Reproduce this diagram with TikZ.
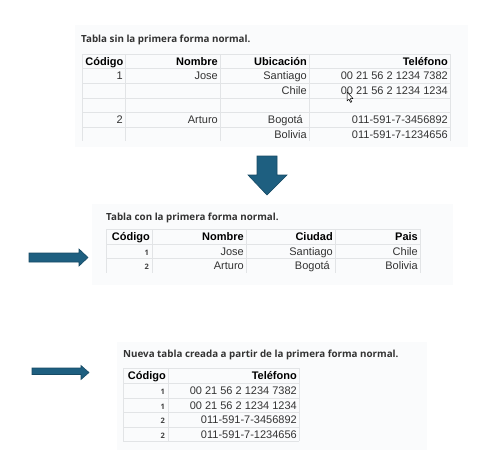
\documentclass[tikz,border=0pt]{standalone}
\usepackage{fontspec}
\setmainfont{Liberation Sans}
\newfontfamily\opensans{Open Sans}
\definecolor{arrowblue}{HTML}{1E5F80}
\definecolor{arrowedge}{HTML}{164A64}
\definecolor{panelbg}{HTML}{FAFBFC}
\definecolor{gridline}{HTML}{E2E4E6}
\definecolor{titlegray}{HTML}{333333}
\tikzset{
  cell/.style={anchor=base east, inner sep=0pt, font=\fontsize{11}{11}\selectfont, text=black!80},
  head/.style={cell, font=\fontsize{11}{11}\selectfont\bfseries, text=black},
  idx/.style={cell, font=\opensans\bfseries\fontsize{7.5}{8}\selectfont, text=black!75},
  caption/.style={anchor=base west, inner sep=0pt, font=\opensans\bfseries\fontsize{9.8}{10}\selectfont, text=titlegray},
  panel/.style={fill=panelbg, draw=none},
  gridrule/.style={draw=gridline, line width=0.9pt},
  blockarrow/.style={fill=arrowblue, draw=arrowedge, line width=0.6pt, line join=miter},
}
\begin{document}
\begin{tikzpicture}[x=1pt, y=-1pt]
  \useasboundingbox (0,0) rectangle (493,474);
  % panels
  \fill[panel] (75,25) rectangle (468,147);
  \fill[panel] (92,204) rectangle (453,285);
  \fill[panel] (117,342) rectangle (427,450);

  % first table: sin la primera forma normal
  \node[caption] (cap1) at (81,42) {Tabla sin la primera forma normal.};
  \foreach \y in {54,68,83,98,112,127}
    \draw[gridrule] (82,\y) -- (450,\y);
  \foreach \x in {82,125,220,309,450}
    \draw[gridrule] (\x,54) -- (\x,141);
  \node[head] (a0c) at (123.5,65) {Código};
  \node[head] (a0n) at (218,65) {Nombre};
  \node[head] (a0u) at (307,65) {Ubicación};
  \node[head] (a0t) at (448,65) {Teléfono};
  \node[cell] (a1c) at (123,79) {1};
  \node[cell] (a1n) at (218,79) {Jose};
  \node[cell] (a1u) at (307,79) {Santiago};
  \node[cell] (a1t) at (448,79) {00 21 56 2 1234 7382};
  \node[cell] (a2u) at (307,94) {Chile};
  \node[cell] (a2t) at (448,94) {00 21 56 2 1234 1234};
  \node[cell] (a4c) at (123,123) {2};
  \node[cell] (a4n) at (218,123) {Arturo};
  \node[cell] (a4u) at (303,123) {Bogotá};
  \node[cell] (a4t) at (448,123) {011-591-7-3456892};
  \node[cell] (a5u) at (307,138) {Bolivia};
  \node[cell] (a5t) at (448,138) {011-591-7-1234656};
  % mouse pointer
  \draw[fill=white, line width=0.5pt, line join=round] (347,92) -- (347,101) -- (349,99.2) -- (350.6,102.4)
    -- (351.8,101.8) -- (350.3,98.7) -- (353,98.5) -- cycle;

  % arrow down
  \draw[blockarrow] (257,156) -- (277,156) -- (277,175) -- (287,175) -- (267,195)
    -- (248,175) -- (257,175) -- cycle;

  % second table: con la primera forma normal
  \node[caption] (cap2) at (106,220) {Tabla con la primera forma normal.};
  \foreach \y in {229,244,258}
    \draw[gridrule] (106,\y) -- (420,\y);
  \foreach \x in {106,152,246,335,420}
    \draw[gridrule] (\x,229) -- (\x,273);
  \node[head] (b0c) at (150,240) {Código};
  \node[head] (b0n) at (244,240) {Nombre};
  \node[head] (b0u) at (333,240) {Ciudad};
  \node[head] (b0p) at (418,240) {Pais};
  \node[idx] (b1c) at (149,255) {1};
  \node[cell] (b1n) at (244,255) {Jose};
  \node[cell] (b1u) at (333,255) {Santiago};
  \node[cell] (b1p) at (418,255) {Chile};
  \node[idx] (b2c) at (149,269) {2};
  \node[cell] (b2n) at (244,269) {Arturo};
  \node[cell] (b2u) at (330,269) {Bogotá};
  \node[cell] (b2p) at (418,269) {Bolivia};
  \draw[blockarrow] (29,253) -- (79,253) -- (79,249) -- (88,257.5) -- (79,266)
    -- (79,262) -- (29,262) -- cycle;

  % third table: nueva tabla
  \node[caption] (cap3) at (123,357) {Nueva tabla creada a partir de la primera forma normal.};
  \foreach \y in {368,383,398,412,427,441}
    \draw[gridrule] (123,\y) -- (299,\y);
  \foreach \x in {123,168,299}
    \draw[gridrule] (\x,368) -- (\x,441);
  \node[head] (c0c) at (166,379) {Código};
  \node[head] (c0t) at (297,379) {Teléfono};
  \node[idx] (c1c) at (165,394) {1};
  \node[cell] (c1t) at (297,394) {00 21 56 2 1234 7382};
  \node[idx] (c2c) at (165,409) {1};
  \node[cell] (c2t) at (297,409) {00 21 56 2 1234 1234};
  \node[idx] (c3c) at (165,423) {2};
  \node[cell] (c3t) at (297,423) {011-591-7-3456892};
  \node[idx] (c4c) at (165,438) {2};
  \node[cell] (c4t) at (297,438) {011-591-7-1234656};
  \draw[blockarrow] (32,368) -- (81,368) -- (81,365.5) -- (89,372.5) -- (81,379.5)
    -- (81,374.5) -- (32,374.5) -- cycle;
\end{tikzpicture}
\end{document}
